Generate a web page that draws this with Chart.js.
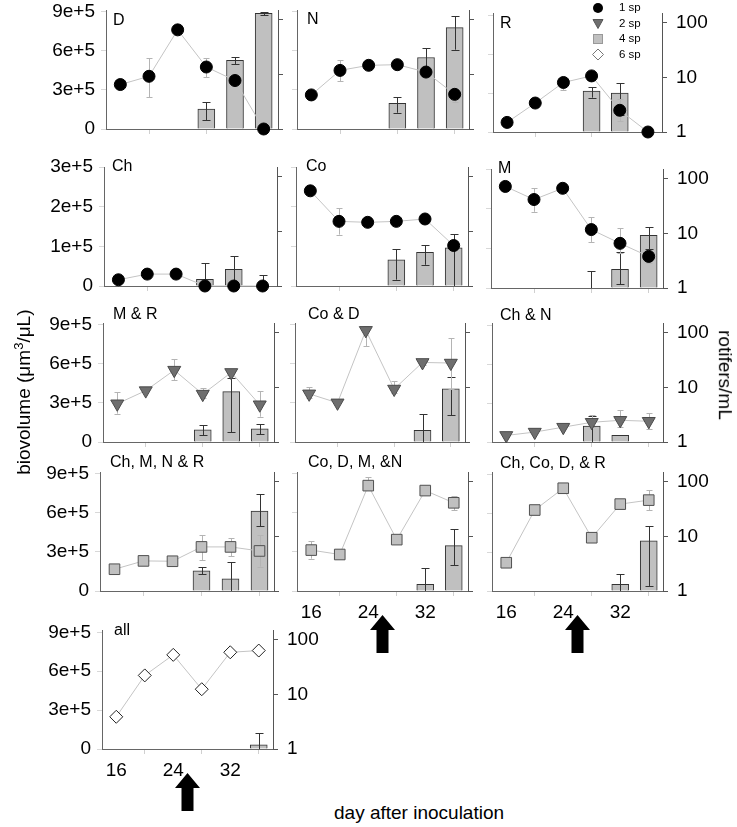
<!DOCTYPE html>
<html>
<head>
<meta charset="utf-8">
<script src="https://cdn.jsdelivr.net/npm/chart.js@4/dist/chart.umd.min.js"></script>
<style>
  body { margin: 0; background: #fff; font-family: "Liberation Sans", Arial, Helvetica, sans-serif; }
  #page { position: relative; width: 737px; height: 827px; overflow: hidden; }
  #page canvas { position: absolute; }
  .title { position: absolute; font-size: 19px; color: #000; white-space: nowrap; }
  .title sup { font-size: 13px; }
</style>
</head>
<body>
<div id="page"></div>
<script>
const days = [16, 20, 24, 28, 32, 36];
const barDays = [28, 32, 36];
const xTicks = [16, 24, 32];
const bioTicksBig = [0, 3e5, 6e5, 9e5];
const bioTicksSmall = [0, 1e5, 2e5, 3e5];
const rotTicks = [1, 10, 100];
const arrowDay = 26;
const legendLabels = ["1 sp", "2 sp", "4 sp", "6 sp"];

// D
const dRot = [6.5, 9.2, 65, 13.6, 7.7, 1.0];
const dRotErr = [null, [3.8, 20], null, [8.8, 20], null, null];
const dBio = [1.54e5, 5.28e5, 8.9e5];
const dBioErr = [[0.69e5, 2.1e5], [5.0e5, 5.56e5], [8.75e5, 9.02e5]];
// N
const nRot = [4.2, 11.8, 14.6, 15, 11, 4.3];
const nRotErr = [null, [7.5, 18.5], null, null, null, [3.1, 4.9]];
const nBio = [1.98e5, 5.5e5, 7.8e5];
const nBioErr = [[1.25e5, 2.48e5], [4.6e5, 6.2e5], [6.1e5, 8.7e5]];
// R
const rRot = [1.5, 3.4, 8.1, 10.7, 2.5, 1.0];
const rRotErr = [null, null, [5.9, 10.3], null, [1.6, 4.0], null];
const rBio = [3.15e5, 3.0e5, null];
const rBioErr = [[2.65e5, 3.5e5], [1.28e5, 3.77e5], null];
// Ch
const chRot = [1.3, 1.65, 1.65, 1.0, 1.0, 1.0];
const chRotErr = [null, [1.4, 1.9], [1.45, 1.85], null, null, null];
const chBio = [1.7e4, 4.2e4, null];
const chBioErr = [[0, 5.8e4], [0, 7.5e4], [0, 2.75e4]];
// Co
const coRot = [55, 15.2, 14.6, 15.2, 16.8, 5.5];
const coRotErr = [null, [8.7, 26.5], null, null, null, null];
const coBio = [6.6e4, 8.5e4, 9.6e4];
const coBioErr = [[1.6e4, 9.35e4], [5.35e4, 1.03e5], [0, 1.31e5]];
// M
const mRot = [73, 42, 67.5, 11.8, 6.6, 3.8];
const mRotErr = [null, [25, 68], null, [7, 20], [4.3, 12.8], [2.85, 5]];
const mBio = [null, 4.75e4, 1.33e5];
const mBioErr = [[0, 4.2e4], [1e4, 9e4], [0.98e5, 1.54e5]];
// M & R
const mrRot = [5.0, 8.7, 20.6, 7.5, 18.7, 4.8];
const mrRotErr = [[3.3, 8.1], null, [13.6, 33.6], [6.5, 9.8], null, [2.9, 8.7]];
const mrBio = [9.4e4, 3.87e5, 1.02e5];
const mrBioErr = [[5.1e4, 1.27e5], [0.77e5, 4.9e5], [0.6e5, 1.4e5]];
// Co & D
const cdRot = [7.6, 5.2, 110, 9.3, 28.5, 27.8];
const cdRotErr = [[6.5, 10.3], null, [57, 130], [8, 13.2], [26, 31], [9.3, 79]];
const cdBio = [null, 8.9e4, 4.09e5];
const cdBioErr = [null, [0, 2.17e5], [2.04e5, 4.97e5]];
// Ch & N
const cnRot = [1.32, 1.52, 1.87, 2.3, 2.5, 2.4];
const cnRotErr = [null, null, null, [1.9, 3.1], [1.87, 3.9], [1.75, 3.4]];
const cnBio = [1.22e5, 5.1e4, null];
const cnBioErr = [[0, 1.97e5], null, null];
// Ch, M, N & R
const cmnrRot = [2.5, 3.55, 3.5, 6.4, 6.4, 5.4];
const cmnrRotErr = [null, null, null, [3.7, 10.7], [4.3, 9.3], [2.8, 10.7]];
const cmnrBio = [1.55e5, 9.3e4, 6.15e5];
const cmnrBioErr = [[1.3e5, 1.88e5], [0, 2.22e5], [4.98e5, 7.44e5]];
// Co, D, M, &N
const cdmnRot = [5.6, 4.65, 84.5, 8.7, 68.6, 41];
const cdmnRotErr = [[3.9, 8.2], null, [70, 120], null, null, [29.7, 55.5]];
const cdmnBio = [null, 5.2e4, 3.49e5];
const cdmnBioErr = [null, [0, 1.8e5], [2.0e5, 4.78e5]];
// Ch, Co, D, & R
const ccdrRot = [3.3, 30.6, 76.8, 9.5, 39.3, 46.5];
const ccdrRotErr = [null, [26, 35], [63, 95], null, null, [30.6, 70.5]];
const ccdrBio = [null, 5.2e4, 3.88e5];
const ccdrBioErr = [null, [0, 1.29e5], [0.39e5, 4.98e5]];
// all
const allRot = [3.9, 22.4, 53.4, 12.5, 59.5, 64];
const allRotErr = [null, null, null, null, null, null];
const allBio = [null, null, 3.3e4];
const allBioErr = [null, null, [0, 1.23e5]];

const FONT = '"Liberation Sans", Arial, Helvetica, sans-serif';
const PAD_L = 60, PAD_R = 60, PAD_T = 20, PAD_B = 70, PLOT_H = 119;

const markers = {
    1: { style: "circle", radius: 6, bg: "#000", border: "#000", rot: 0 },
    2: { style: "triangle", radius: 7.5, bg: "#6e6e6e", border: "#4a4a4a", rot: 180 },
    4: { style: "rect", radius: 7.5, bg: "#c0c0c0", border: "#505050", rot: 0 },
    6: { style: "rectRot", radius: 6.5, bg: "#fff", border: "#222", rot: 0 }
};

// panel layout: left, bottom, right of the plot area, label offset
const panels = [
    { name: "D", sp: 1, rot: dRot, rotErr: dRotErr, bio: dBio, bioErr: dBioErr, l: 106, b: 129, r: 278, lx: 7, ly: 11, big: true, yl: true },
    { name: "N", sp: 1, rot: nRot, rotErr: nRotErr, bio: nBio, bioErr: nBioErr, l: 297, b: 129, r: 469, lx: 10, ly: 10, big: true },
    { name: "R", sp: 1, rot: rRot, rotErr: rRotErr, bio: rBio, bioErr: rBioErr, l: 493, b: 132, r: 662, lx: 7, ly: 10, big: true, y2l: true },
    { name: "Ch", sp: 1, rot: chRot, rotErr: chRotErr, bio: chBio, bioErr: chBioErr, l: 104, b: 286, r: 277, lx: 8, ly: 0, big: false, yl: true },
    { name: "Co", sp: 1, rot: coRot, rotErr: coRotErr, bio: coBio, bioErr: coBioErr, l: 296, b: 286, r: 468, lx: 10, ly: 0, big: false },
    { name: "M", sp: 1, rot: mRot, rotErr: mRotErr, bio: mBio, bioErr: mBioErr, l: 491, b: 288, r: 663, lx: 7, ly: -1, big: false, y2l: true },
    { name: "M & R", sp: 2, rot: mrRot, rotErr: mrRotErr, bio: mrBio, bioErr: mrBioErr, l: 103, b: 442, r: 274, lx: 10, ly: -8, big: true, yl: true },
    { name: "Co & D", sp: 2, rot: cdRot, rotErr: cdRotErr, bio: cdBio, bioErr: cdBioErr, l: 295, b: 442, r: 465, lx: 13, ly: -8, big: true },
    { name: "Ch & N", sp: 2, rot: cnRot, rotErr: cnRotErr, bio: cnBio, bioErr: cnBioErr, l: 492, b: 442, r: 663, lx: 8, ly: -8, big: true, y2l: true },
    { name: "Ch, M, N & R", sp: 4, rot: cmnrRot, rotErr: cmnrRotErr, bio: cmnrBio, bioErr: cmnrBioErr, l: 100, b: 591, r: 274, lx: 10, ly: -9, big: true, yl: true },
    { name: "Co, D, M, &N", sp: 4, rot: cdmnRot, rotErr: cdmnRotErr, bio: cdmnBio, bioErr: cdmnBioErr, l: 297, b: 591, r: 468, lx: 11, ly: -9, big: true, xl: true },
    { name: "Ch, Co, D, & R", sp: 4, rot: ccdrRot, rotErr: ccdrRotErr, bio: ccdrBio, bioErr: ccdrBioErr, l: 492, b: 591, r: 663, lx: 8, ly: -9, big: true, y2l: true, xl: true },
    { name: "all", sp: 6, rot: allRot, rotErr: allRotErr, bio: allBio, bioErr: allBioErr, l: 102, b: 749, r: 273, lx: 12, ly: 0, big: true, yl: true, y2l: true, xl: true }
];

const page = document.getElementById("page");

function drawErr(ctx, xs, ys, xVals, errs, color, cap) {
    ctx.save();
    ctx.strokeStyle = color;
    ctx.lineWidth = 1;
    ctx.beginPath();
    errs.forEach((e, i) => {
        if (!e) return;
        const x = Math.round(xs.getPixelForValue(xVals[i])) + 0.5;
        const lo = Math.max(e[0], ys.min);
        const y1 = ys.getPixelForValue(lo);
        const y2 = Math.round(ys.getPixelForValue(e[1])) + 0.5;
        ctx.moveTo(x, y1);
        ctx.lineTo(x, y2);
        ctx.moveTo(x - cap, y2);
        ctx.lineTo(x + cap, y2);
        if (lo > ys.min) {
            const yl = Math.round(y1) + 0.5;
            ctx.moveTo(x - cap, yl);
            ctx.lineTo(x + cap, yl);
        }
    });
    ctx.stroke();
    ctx.restore();
}

function drawArrow(ctx, x, top) {
    ctx.save();
    ctx.fillStyle = "#000";
    ctx.beginPath();
    ctx.moveTo(x, top);
    ctx.lineTo(x + 12.5, top + 15);
    ctx.lineTo(x + 6, top + 15);
    ctx.lineTo(x + 6, top + 38);
    ctx.lineTo(x - 6, top + 38);
    ctx.lineTo(x - 6, top + 15);
    ctx.lineTo(x - 12.5, top + 15);
    ctx.closePath();
    ctx.fill();
    ctx.restore();
}

function panelPlugin(p) {
    return {
        id: "panelExtras",
        afterDatasetDraw(chart, args) {
            if (args.meta.type === "bar") {
                drawErr(chart.ctx, chart.scales.x, chart.scales.y, barDays, p.bioErr, "#333", 4);
            }
        },
        beforeDatasetDraw(chart, args) {
            if (args.meta.type === "line") {
                drawErr(chart.ctx, chart.scales.x, chart.scales.y2, days, p.rotErr, "#b4b4b4", 3);
            }
        },
        afterDraw(chart) {
            const ctx = chart.ctx, a = chart.chartArea;
            ctx.save();
            ctx.fillStyle = "#000";
            ctx.font = "16px " + FONT;
            ctx.textBaseline = "middle";
            ctx.fillText(p.name, a.left + p.lx, a.top + p.ly);
            ctx.restore();
            if (p.xl) drawArrow(ctx, chart.scales.x.getPixelForValue(arrowDay), a.bottom + 24);
        }
    };
}

panels.forEach(p => {
    const l = Math.round(p.l), w = Math.round(p.r - p.l);
    const t = Math.round(p.b) - PLOT_H;
    const cv = document.createElement("canvas");
    cv.width = w + PAD_L + PAD_R;
    cv.height = PLOT_H + PAD_T + PAD_B;
    cv.style.left = (l - PAD_L) + "px";
    cv.style.top = (t - PAD_T) + "px";
    page.appendChild(cv);

    const m = markers[p.sp];
    const bioTicks = p.big ? bioTicksBig : bioTicksSmall;

    new Chart(cv, {
        type: "bar",
        data: {
            datasets: [
                {
                    type: "line",
                    data: days.map((d, i) => ({ x: d, y: p.rot[i] })),
                    yAxisID: "y2",
                    borderColor: "#c4c4c4",
                    borderWidth: 1,
                    tension: 0,
                    pointStyle: m.style,
                    pointRotation: m.rot,
                    pointRadius: m.radius,
                    pointBorderWidth: 1,
                    pointBackgroundColor: m.bg,
                    pointBorderColor: m.border,
                    clip: false,
                    order: 0
                },
                {
                    type: "bar",
                    data: barDays.map((d, i) => ({ x: d, y: p.bio[i] })),
                    yAxisID: "y",
                    backgroundColor: "#c0c0c0",
                    borderColor: "#333",
                    borderWidth: 1,
                    barThickness: 17,
                    order: 1
                }
            ]
        },
        options: {
            responsive: false,
            animation: false,
            devicePixelRatio: 1,
            layout: { padding: { top: PAD_T, left: 0, right: 0, bottom: 0 } },
            plugins: { legend: { display: false }, tooltip: { enabled: false } },
            scales: {
                x: {
                    type: "linear",
                    min: 14,
                    max: 38,
                    offset: false,
                    afterBuildTicks: s => { s.ticks = xTicks.map(v => ({ value: v })); },
                    ticks: { display: !!p.xl, autoSkip: false, maxRotation: 0, padding: 5, color: "#000", font: { family: FONT, size: 19 } },
                    grid: { drawOnChartArea: false, tickLength: 5, tickColor: "#d0d0d0" },
                    border: { color: "#666", width: 1 },
                    afterFit: s => { s.height = PAD_B; }
                },
                y: {
                    type: "linear",
                    position: "left",
                    min: 0,
                    max: p.big ? 9.15e5 : 3.0e5,
                    afterBuildTicks: s => { s.ticks = bioTicks.map(v => ({ value: v })); },
                    ticks: {
                        display: !!p.yl, autoSkip: false, padding: 6, color: "#000", font: { family: FONT, size: 19 },
                        callback: v => v === 0 ? "0" : v.toExponential(0)
                    },
                    grid: { drawOnChartArea: false, tickLength: 5, tickColor: "#d8d8d8" },
                    border: { color: "#666", width: 1 },
                    afterFit: s => { s.width = PAD_L; }
                },
                y2: {
                    type: "logarithmic",
                    position: "right",
                    min: 1,
                    max: 150,
                    afterBuildTicks: s => { s.ticks = rotTicks.map(v => ({ value: v })); },
                    ticks: {
                        display: !!p.y2l, autoSkip: false, padding: 9, color: "#000", font: { family: FONT, size: 19 },
                        callback: v => String(v)
                    },
                    grid: { drawOnChartArea: false, tickLength: 5, tickColor: "#555" },
                    border: { color: "#555", width: 1 },
                    afterFit: s => { s.width = PAD_R; }
                }
            }
        },
        plugins: [panelPlugin(p)]
    });
});

// legend
const leg = document.createElement("canvas");
leg.width = 80; leg.height = 64;
leg.style.left = "585px"; leg.style.top = "0px";
page.appendChild(leg);
(function () {
    const ctx = leg.getContext("2d");
    const rows = [8, 23.5, 39, 54.5];
    const cx = 13;
    ctx.lineWidth = 1;
    // 1 sp
    ctx.fillStyle = "#000";
    ctx.beginPath(); ctx.arc(cx, rows[0], 5, 0, Math.PI * 2); ctx.fill();
    // 2 sp
    ctx.fillStyle = "#6e6e6e"; ctx.strokeStyle = "#555";
    ctx.beginPath(); ctx.moveTo(cx - 5, rows[1] - 4); ctx.lineTo(cx + 5, rows[1] - 4); ctx.lineTo(cx, rows[1] + 5); ctx.closePath(); ctx.fill(); ctx.stroke();
    // 4 sp
    ctx.fillStyle = "#c0c0c0"; ctx.strokeStyle = "#999";
    ctx.fillRect(cx - 4.5, rows[2] - 4.5, 9, 9); ctx.strokeRect(cx - 4.5, rows[2] - 4.5, 9, 9);
    // 6 sp
    ctx.fillStyle = "#fff"; ctx.strokeStyle = "#777";
    ctx.beginPath(); ctx.moveTo(cx, rows[3] - 5.5); ctx.lineTo(cx + 5.5, rows[3]); ctx.lineTo(cx, rows[3] + 5.5); ctx.lineTo(cx - 5.5, rows[3]); ctx.closePath(); ctx.fill(); ctx.stroke();
    ctx.fillStyle = "#000";
    ctx.font = "11.5px " + FONT;
    ctx.textBaseline = "middle";
    legendLabels.forEach((t, i) => ctx.fillText(t, 34, rows[i]));
})();

// axis titles
function addTitle(html, cx, cy, rot) {
    const d = document.createElement("div");
    d.className = "title";
    d.innerHTML = html;
    page.appendChild(d);
    const w = d.offsetWidth, h = d.offsetHeight;
    d.style.left = (cx - w / 2) + "px";
    d.style.top = (cy - h / 2) + "px";
    if (rot) d.style.transform = "rotate(" + rot + "deg)";
}
addTitle("biovolume (μm<sup>3</sup>/μL)", 22, 392, -90);
addTitle("rotifers/mL", 725, 375, 90);
addTitle("day after inoculation", 419, 813, 0);
</script>
</body>
</html>
